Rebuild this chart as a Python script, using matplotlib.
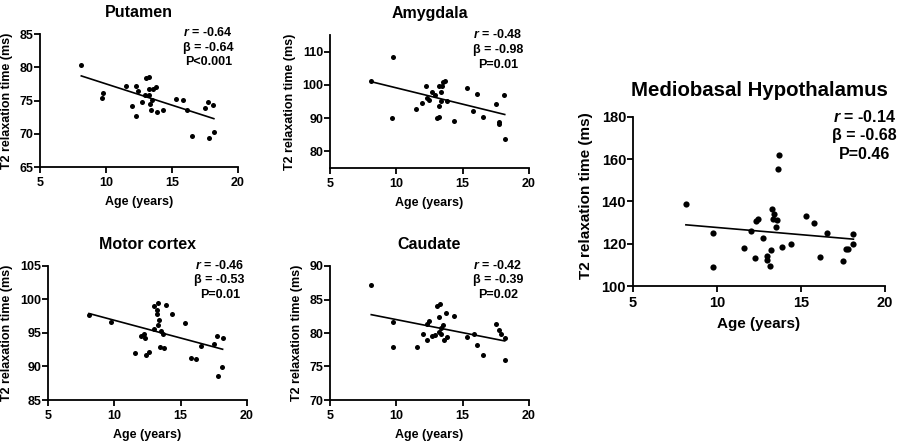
import matplotlib
matplotlib.use("Agg")
import matplotlib.pyplot as plt
import numpy as np

plt.rcParams['font.family'] = ['Liberation Sans', 'DejaVu Sans']
plt.rcParams['font.weight'] = 'bold'
plt.rcParams['mathtext.fontset'] = 'custom'
plt.rcParams['mathtext.it'] = 'Liberation Sans:italic:bold'
plt.rcParams['mathtext.rm'] = 'Liberation Sans:bold'

# ---------------- data ----------------
titles = ["Putamen", "Amygdala", "Motor cortex", "Caudate", "Mediobasal Hypothalamus"]

putamen_age = [8.13, 9.77, 9.72, 11.55, 12.29, 12.46, 12.0, 12.31, 12.71, 13.02, 13.25, 13.22, 13.57, 13.75, 12.97,
               13.27, 13.47, 13.32, 13.42, 13.87, 14.35, 15.31, 15.84, 16.12, 16.55, 17.53, 17.76, 18.14, 17.81, 18.17]
putamen_t2 = [80.3, 76.2, 75.4, 77.2, 77.2, 76.5, 74.2, 72.6, 74.7, 78.45, 78.6, 76.8, 76.7, 77.0, 75.9,
              75.8, 75.1, 74.5, 73.5, 73.2, 73.5, 75.3, 75.1, 73.5, 69.6, 73.9, 74.8, 74.3, 69.4, 70.3]

amyg_age = [8.11, 9.74, 9.69, 11.52, 11.97, 12.25, 12.3, 12.45, 12.67, 12.92, 13.03, 13.18, 13.25, 13.2, 13.4,
            13.33, 13.45, 13.55, 13.7, 13.85, 14.33, 15.31, 15.78, 16.11, 16.51, 17.49, 17.72, 17.77, 18.12, 18.17]
amyg_t2 = [101.2, 108.4, 89.9, 92.7, 94.5, 99.8, 96.0, 95.5, 97.8, 96.9, 89.9, 90.3, 93.6, 99.6, 98.0,
           95.1, 99.7, 101.0, 101.3, 95.0, 89.1, 99.2, 92.1, 97.3, 90.3, 94.1, 88.8, 88.3, 97.0, 83.6]

motor_age = [8.09, 9.72, 11.56, 11.98, 12.2, 12.3, 12.41, 12.64, 12.99, 13.26, 13.2, 13.19, 13.39, 13.31, 12.99,
             13.54, 13.64, 13.47, 13.72, 13.87, 14.34, 15.32, 15.8, 16.13, 16.53, 17.51, 17.74, 18.16, 17.84, 18.14]
motor_t2 = [97.66, 96.6, 92.0, 94.5, 94.8, 94.3, 91.65, 92.1, 99.1, 99.5, 98.5, 97.8, 97.0, 96.2, 95.6,
            95.3, 94.9, 92.9, 92.8, 99.2, 97.85, 96.5, 91.25, 91.1, 93.1, 93.4, 94.6, 94.2, 88.6, 89.9]

caud_age = [8.11, 9.77, 9.72, 11.55, 12.02, 12.28, 12.3, 12.43, 12.7, 12.9, 13.05, 13.28, 13.23, 13.2, 13.4,
            13.53, 13.35, 13.6, 13.73, 13.85, 14.33, 15.33, 15.84, 16.11, 16.56, 17.54, 17.71, 17.86, 18.17, 18.17]
caud_t2 = [87.1, 81.6, 77.9, 77.9, 79.8, 79.0, 81.4, 81.85, 79.5, 79.7, 84.0, 84.4, 82.35, 80.2, 80.7,
           81.2, 79.9, 78.9, 83.05, 79.4, 82.5, 79.4, 79.8, 78.2, 76.65, 81.4, 80.4, 79.9, 79.3, 75.95]

mbh_age = [8.15, 9.78, 9.74, 11.58, 12.02, 12.29, 12.33, 12.47, 12.71, 12.97, 13.0, 13.18, 13.24, 13.28, 13.38,
           13.32, 13.56, 13.52, 13.64, 13.72, 13.88, 14.38, 15.29, 15.8, 16.14, 16.53, 17.49, 17.7, 17.82, 18.12, 18.1]
mbh_t2 = [138.8, 125.3, 109.0, 118.2, 126.1, 113.3, 130.7, 131.8, 122.5, 114.1, 112.2, 109.7, 117.1, 136.3, 134.1,
          131.7, 131.2, 127.7, 155.6, 162.1, 118.5, 120.1, 133.0, 129.9, 113.6, 124.9, 111.9, 117.3, 117.7, 124.5, 119.8]

fit_intercept = [83.9, 108.9, 102.2, 85.9, 134.5]
fit_slope = [-0.64, -0.98, -0.53, -0.39, -0.68]

r_text = ["-0.64", "-0.48", "-0.46", "-0.42", "-0.14"]
beta_text = ["-0.64", "-0.98", "-0.53", "-0.39", "-0.68"]
p_text = ["P<0.001", "P=0.01", "P=0.01", "P=0.02", "P=0.46"]

y_limits = [(65, 85), (75, 115), (85, 105), (70, 90), (100, 180)]
y_ticks = [[65, 70, 75, 80, 85], [80, 90, 100, 110], [85, 90, 95, 100, 105], [70, 75, 80, 85, 90],
           [100, 120, 140, 160, 180]]
x_ticks = [5, 10, 15, 20]

ages = [putamen_age, amyg_age, motor_age, caud_age, mbh_age]
values = [putamen_t2, amyg_t2, motor_t2, caud_t2, mbh_t2]

# ---------------- layout ----------------
W, H = 900, 444
boxes = [(40, 34, 238, 167), (330, 35, 529, 168), (48, 266, 247, 400), (330, 266, 529, 400), (633, 117, 885, 286)]
ylabel_x = [-0.135, -0.173, -0.177, -0.135, -0.159]
text_x = [0.85, 0.843, 0.863, 0.844, 0.917]
text_y = [1.06, 1.05, 1.055, 1.055, 1.05]

fig = plt.figure(figsize=(9, 4.44), dpi=100)

for i in range(5):
    x0, y0, x1, y1 = boxes[i]
    ax = fig.add_axes([x0 / W, 1 - y1 / H, (x1 - x0) / W, (y1 - y0) / H])
    big = (i == 4)
    s_title = 14.7 if big else 11.5
    s_tick = 10.5 if big else 9
    s_label = 11 if big else 9
    s_ann = 11.5 if big else 9
    msize = 20 if big else 13

    ax.scatter(ages[i], values[i], s=msize, color='black', linewidths=0, zorder=3)
    xs = np.array([min(ages[i]), max(ages[i])])
    ax.plot(xs, fit_intercept[i] + fit_slope[i] * xs, color='black', lw=1.2, zorder=2)

    ax.set_xlim(5, 20)
    ax.set_ylim(*y_limits[i])
    ax.set_xticks(x_ticks)
    ax.set_yticks(y_ticks[i])
    for sp in ['top', 'right']:
        ax.spines[sp].set_visible(False)
    for sp in ['left', 'bottom']:
        ax.spines[sp].set_linewidth(1.3)
    ax.tick_params(axis='both', direction='out', length=4, width=1.3, labelsize=s_tick)
    ax.tick_params(axis='y', pad=1)
    ax.tick_params(axis='x', pad=3)
    for lab in ax.get_xticklabels() + ax.get_yticklabels():
        lab.set_fontweight('bold')

    ax.set_title(titles[i], fontsize=s_title, fontweight='bold', pad=12 if not big else 15)
    ax.set_xlabel("Age (years)", fontsize=s_label, fontweight='bold', labelpad=5)
    ax.set_ylabel("T2 relaxation time (ms)", fontsize=s_label, fontweight='bold')
    ax.yaxis.set_label_coords(ylabel_x[i], 0.534 if big else 0.5)

    ann = "$r$ = " + r_text[i] + "\nβ = " + beta_text[i] + "\n" + p_text[i]
    ax.text(text_x[i], text_y[i], ann, transform=ax.transAxes, ha='center', va='top',
            multialignment='center', fontsize=s_ann, fontweight='bold', linespacing=1.3)

fig.savefig("out.png", dpi=100)
